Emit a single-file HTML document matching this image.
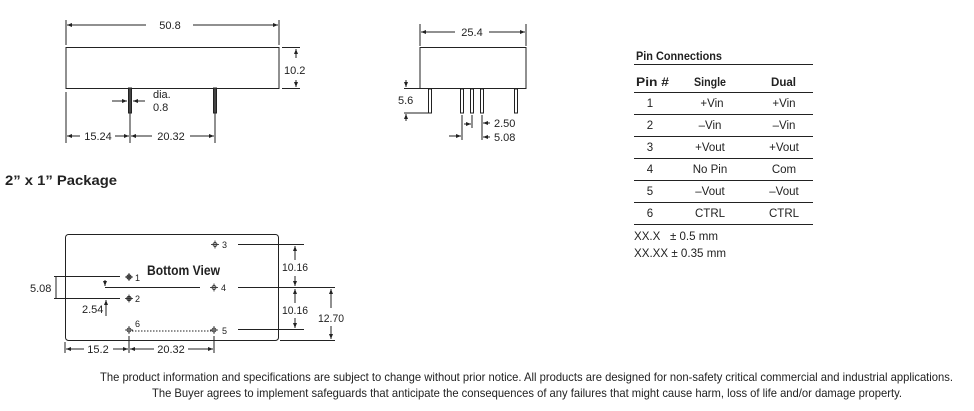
<!DOCTYPE html>
<html><head><meta charset="utf-8"><style>
html,body{margin:0;padding:0;background:#fff;}
svg{display:block;font-family:"Liberation Sans",sans-serif;}
</style></head><body>
<svg width="974" height="411" viewBox="0 0 974 411" xmlns="http://www.w3.org/2000/svg">
<defs>
<marker id="a" viewBox="0 0 10 10" refX="10" refY="5" markerWidth="5" markerHeight="5" orient="auto-start-reverse"><path d="M0,1 L10,5 L0,9 z" fill="#222"/></marker>
</defs>
<g stroke="#222" stroke-width="1" fill="none">
<rect x="66" y="47.5" width="213" height="41"/>
<line x1="66" y1="20" x2="66" y2="45"/><line x1="279" y1="20" x2="279" y2="45"/>
<line x1="67" y1="25" x2="146" y2="25" marker-start="url(#a)"/><line x1="193" y1="25" x2="278" y2="25" marker-end="url(#a)"/>
<line x1="282" y1="47.5" x2="300" y2="47.5"/><line x1="282" y1="88.5" x2="300" y2="88.5"/>
<line x1="296" y1="49" x2="296" y2="58" marker-start="url(#a)"/><line x1="296" y1="80" x2="296" y2="87" marker-end="url(#a)"/>
<line x1="66" y1="92" x2="66" y2="143"/><line x1="130" y1="113" x2="130" y2="143"/><line x1="215" y1="113" x2="215" y2="143"/>
<line x1="67" y1="136" x2="80" y2="136" marker-start="url(#a)"/><line x1="115" y1="136" x2="129" y2="136" marker-end="url(#a)"/>
<line x1="131" y1="136" x2="152" y2="136" marker-start="url(#a)"/><line x1="190" y1="136" x2="214" y2="136" marker-end="url(#a)"/>
<line x1="112" y1="101" x2="127" y2="101" marker-end="url(#a)"/><line x1="145" y1="101" x2="133" y2="101" marker-end="url(#a)"/>
<rect x="420" y="47.5" width="106" height="41"/>
<line x1="420" y1="24" x2="420" y2="46"/><line x1="526" y1="24" x2="526" y2="46"/>
<line x1="421" y1="32" x2="455" y2="32" marker-start="url(#a)"/><line x1="489" y1="32" x2="525" y2="32" marker-end="url(#a)"/>
<line x1="404" y1="88.5" x2="427" y2="88.5"/><line x1="404" y1="113" x2="428" y2="113"/>
<line x1="406" y1="80" x2="406" y2="87" marker-end="url(#a)"/><line x1="406" y1="121" x2="406" y2="114" marker-end="url(#a)"/>
<line x1="462" y1="115" x2="462" y2="140"/><line x1="472" y1="115" x2="472" y2="128"/><line x1="482" y1="115" x2="482" y2="140"/>
<line x1="449" y1="136" x2="461" y2="136" marker-end="url(#a)"/>
<line x1="464" y1="124" x2="471" y2="124" marker-end="url(#a)"/>
<line x1="490" y1="123" x2="483" y2="123" marker-end="url(#a)"/><line x1="490" y1="137" x2="483" y2="137" marker-end="url(#a)"/>
<line x1="634" y1="64.5" x2="813" y2="64.5"/>
<line x1="634" y1="92.5" x2="813" y2="92.5"/>
<line x1="634" y1="114.5" x2="813" y2="114.5"/>
<line x1="634" y1="136.5" x2="813" y2="136.5"/>
<line x1="634" y1="158.5" x2="813" y2="158.5"/>
<line x1="634" y1="180.5" x2="813" y2="180.5"/>
<line x1="634" y1="202.5" x2="813" y2="202.5"/>
<line x1="634" y1="224.5" x2="813" y2="224.5"/>
<rect x="65.5" y="234.5" width="213" height="106" rx="3"/>
<line x1="238" y1="244.5" x2="304" y2="244.5"/><line x1="238" y1="287.5" x2="335" y2="287.5"/><line x1="238" y1="329.5" x2="304" y2="329.5"/>
<line x1="280" y1="340.5" x2="335" y2="340.5"/>
<line x1="295" y1="260" x2="295" y2="246" marker-end="url(#a)"/><line x1="295" y1="276" x2="295" y2="286" marker-end="url(#a)"/>
<line x1="295" y1="303" x2="295" y2="289" marker-end="url(#a)"/><line x1="295" y1="318" x2="295" y2="328" marker-end="url(#a)"/>
<line x1="331" y1="308" x2="331" y2="289" marker-end="url(#a)"/><line x1="331" y1="326" x2="331" y2="339" marker-end="url(#a)"/>
<line x1="54" y1="276.5" x2="120" y2="276.5"/><line x1="54" y1="298.5" x2="120" y2="298.5"/>
<line x1="56" y1="277" x2="56" y2="298"/>
<line x1="105" y1="287.5" x2="200" y2="287.5"/>
<line x1="105" y1="280" x2="105" y2="286" marker-end="url(#a)"/>
<line x1="106" y1="316" x2="106" y2="300" marker-end="url(#a)"/>
<line x1="129" y1="331" x2="214" y2="331" stroke-dasharray="1.5,1.5"/>
<line x1="65" y1="342" x2="65" y2="353"/><line x1="129" y1="336" x2="129" y2="353"/><line x1="214" y1="336" x2="214" y2="353"/>
<line x1="66" y1="349" x2="84" y2="349" marker-start="url(#a)"/><line x1="113" y1="349" x2="128" y2="349" marker-end="url(#a)"/>
<line x1="130" y1="349" x2="154" y2="349" marker-start="url(#a)"/><line x1="188" y1="349" x2="213" y2="349" marker-end="url(#a)"/>
</g>
<g fill="#fff" stroke="#222" stroke-width="1">
<rect x="128.5" y="88" width="3" height="25" fill="#444"/><rect x="213.5" y="88" width="3" height="25" fill="#444"/>
<rect x="428.5" y="89" width="3" height="24"/><rect x="460.5" y="89" width="3" height="24"/><rect x="470.5" y="89" width="3" height="24"/><rect x="480.5" y="89" width="3" height="24"/><rect x="514.5" y="89" width="3" height="24"/>
</g>
<g stroke="#222" stroke-width="0.8">
<circle cx="215" cy="244.5" r="2" fill="#fff"/><line x1="211" y1="244.5" x2="219" y2="244.5"/><line x1="215" y1="240.5" x2="215" y2="248.5"/>
<circle cx="214" cy="287.5" r="2" fill="#fff"/><line x1="210" y1="287.5" x2="218" y2="287.5"/><line x1="214" y1="283.5" x2="214" y2="291.5"/>
<circle cx="214" cy="330" r="2" fill="#fff"/><line x1="210" y1="330" x2="218" y2="330"/><line x1="214" y1="326" x2="214" y2="334"/>
<circle cx="129" cy="330" r="2" fill="#fff"/><line x1="125" y1="330" x2="133" y2="330"/><line x1="129" y1="326" x2="129" y2="334"/>
<circle cx="129" cy="277" r="2.3" fill="#777"/><line x1="125" y1="277" x2="133" y2="277"/><line x1="129" y1="273" x2="129" y2="281"/>
<circle cx="129" cy="298.5" r="2.3" fill="#777"/><line x1="125" y1="298.5" x2="133" y2="298.5"/><line x1="129" y1="294.5" x2="129" y2="302.5"/>
</g>
<g fill="#222" font-size="11">
<text x="170" y="29" text-anchor="middle">50.8</text>
<text x="284" y="74">10.2</text>
<text x="153" y="98">dia.</text><text x="153" y="111">0.8</text>
<text x="98" y="140" text-anchor="middle">15.24</text><text x="171" y="140" text-anchor="middle">20.32</text>
<text x="472" y="36" text-anchor="middle">25.4</text>
<text x="398" y="104">5.6</text>
<text x="494" y="127">2.50</text><text x="494" y="141">5.08</text>
<text x="5" y="185" font-size="14" font-weight="bold" textLength="112" lengthAdjust="spacingAndGlyphs">2” x 1” Package</text>
<text x="147" y="275" font-size="14" font-weight="bold" textLength="73" lengthAdjust="spacingAndGlyphs">Bottom View</text>
<text x="222" y="248" font-size="9">3</text><text x="135" y="281" font-size="9">1</text><text x="221" y="291" font-size="9">4</text>
<text x="135" y="302" font-size="9">2</text><text x="135" y="327" font-size="9">6</text><text x="222" y="334" font-size="9">5</text>
<text x="282" y="271" textLength="26" lengthAdjust="spacingAndGlyphs">10.16</text><text x="282" y="314" textLength="26" lengthAdjust="spacingAndGlyphs">10.16</text><text x="318" y="322" textLength="26" lengthAdjust="spacingAndGlyphs">12.70</text>
<text x="30" y="292">5.08</text><text x="82" y="313">2.54</text>
<text x="98" y="353" text-anchor="middle">15.2</text><text x="171" y="353" text-anchor="middle">20.32</text>
<text x="636" y="60" font-size="12" font-weight="bold" textLength="86" lengthAdjust="spacingAndGlyphs">Pin Connections</text>
<g font-size="12" font-weight="bold"><text x="636" y="86" textLength="33" lengthAdjust="spacingAndGlyphs">Pin #</text><text x="694" y="86" textLength="32" lengthAdjust="spacingAndGlyphs">Single</text><text x="771" y="86" textLength="25" lengthAdjust="spacingAndGlyphs">Dual</text></g>
<g font-size="11.5" text-anchor="middle">
<text x="650" y="107">1</text><text x="712" y="107">+Vin</text><text x="784" y="107">+Vin</text>
<text x="650" y="129">2</text><text x="710" y="129">–Vin</text><text x="784" y="129">–Vin</text>
<text x="650" y="151">3</text><text x="710" y="151">+Vout</text><text x="784" y="151">+Vout</text>
<text x="650" y="173">4</text><text x="710" y="173">No Pin</text><text x="784" y="173">Com</text>
<text x="650" y="195">5</text><text x="710" y="195">–Vout</text><text x="784" y="195">–Vout</text>
<text x="650" y="217">6</text><text x="710" y="217">CTRL</text><text x="784" y="217">CTRL</text>
</g>
<text x="634" y="240" font-size="12" textLength="84" lengthAdjust="spacingAndGlyphs" xml:space="preserve">XX.X   ± 0.5 mm</text>
<text x="634" y="257" font-size="12" textLength="92" lengthAdjust="spacingAndGlyphs">XX.XX ± 0.35 mm</text>
<g font-size="12">
<text x="100" y="381" textLength="853" lengthAdjust="spacingAndGlyphs">The product information and specifications are subject to change without prior notice. All products are designed for non-safety critical commercial and industrial applications.</text>
<text x="152" y="397" textLength="750" lengthAdjust="spacingAndGlyphs">The Buyer agrees to implement safeguards that anticipate the consequences of any failures that might cause harm, loss of life and/or damage property.</text>
</g>
</g>
</svg>
</body></html>
